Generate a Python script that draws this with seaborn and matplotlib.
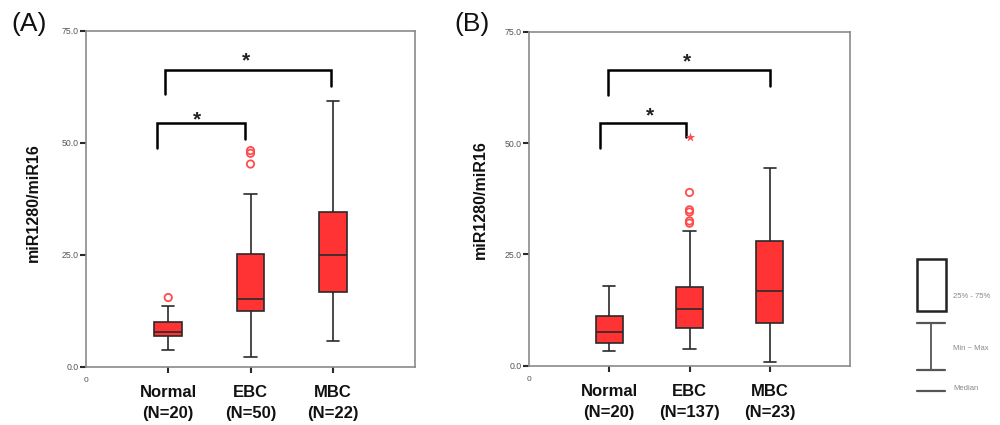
import numpy as np
import pandas as pd
import matplotlib
matplotlib.use("Agg")
import matplotlib.pyplot as plt
import seaborn as sns

# ---------------- data ----------------
groups = ["Normal", "EBC", "MBC"]
labels_a = ["Normal\n(N=20)", "EBC\n(N=50)", "MBC\n(N=22)"]
labels_b = ["Normal\n(N=20)", "EBC\n(N=137)", "MBC\n(N=23)"]
y_ticks = [0, 25, 50, 75]
y_ticklabels = ["0.0", "25.0", "50.0", "75.0"]

# five-number summaries (min, Q1, median, Q3, max) per group
a_min = [3.8, 2.2, 5.9]
a_q1 = [6.9, 12.6, 16.7]
a_med = [7.9, 15.2, 25.0]
a_q3 = [10.0, 25.2, 34.7]
a_max = [13.6, 38.6, 59.4]
a_out_group = ["Normal", "EBC", "EBC", "EBC"]
a_out_val = [15.5, 48.3, 47.7, 45.3]
a_ext_group = []
a_ext_val = []

b_min = [3.3, 3.8, 0.9]
b_q1 = [5.0, 8.4, 9.5]
b_med = [7.5, 12.7, 16.8]
b_q3 = [11.2, 17.6, 28.0]
b_max = [17.9, 30.3, 44.3]
b_out_group = ["EBC", "EBC", "EBC", "EBC", "EBC"]
b_out_val = [38.9, 35.0, 34.5, 32.5, 32.0]
b_ext_group = ["EBC"]
b_ext_val = [51.4]

# significance brackets: (x left, x right, left leg bottom, right leg bottom, top)
a_brackets = [(-0.14, 0.93, 48.9, 51.0, 54.5), (-0.045, 1.98, 60.9, 62.8, 66.4)]
a_stars = [(0.35, 55.2), (0.95, 68.3)]
b_brackets = [(-0.11, 0.96, 48.8, 51.3, 54.4), (-0.01, 2.0, 60.8, 62.8, 66.4)]
b_stars = [(0.51, 56.2), (0.97, 68.2)]

RED = "#ff3333"
DARK = "#2a2a2a"

sns.set_theme(style="white")
plt.rcParams["font.family"] = ["Liberation Sans", "DejaVu Sans"]

fig = plt.figure(figsize=(10, 4.25), dpi=100)


def panel(rect, mins, q1s, meds, q3s, maxs, out_g, out_v, ext_g, ext_v,
          brackets, stars, xlabels):
    ax = fig.add_axes(rect)
    rows = []
    for g, a, b, c, d, e in zip(groups, mins, q1s, meds, q3s, maxs):
        for v in (a, b, c, d, e):
            rows.append({"group": g, "value": v})
    df = pd.DataFrame(rows)
    sns.boxplot(data=df, x="group", y="value", order=groups, whis=(0, 100),
                width=0.34, color=RED, saturation=1, linecolor=DARK,
                linewidth=1.2, showfliers=False, ax=ax, capwidths=0.15)
    ox = [groups.index(g) for g in out_g]
    ax.scatter(ox, out_v, s=28, facecolors="none", edgecolors="#ff4d4d",
               linewidths=1.3, zorder=5)
    if ext_g:
        ex = [groups.index(g) for g in ext_g]
        ax.scatter(ex, ext_v, s=50, marker="*", color="#ff4d4d",
                   linewidths=0, zorder=5)
    for (xl, xr, yl, yr, top) in brackets:
        ax.plot([xl, xl, xr, xr], [yl, top, top, yr], color="black",
                lw=1.8, solid_joinstyle="miter")
    for (sx, sy) in stars:
        ax.text(sx, sy, "*", ha="center", va="center", fontsize=15,
                color="#222222", fontweight="bold")
    ax.set_xlim(-1, 3)
    ax.set_ylim(0, 75)
    ax.set_yticks(y_ticks)
    ax.set_yticklabels(y_ticklabels)
    ax.set_xticks(range(len(groups)))
    ax.set_xticklabels(xlabels, fontsize=12, fontweight="bold",
                       linespacing=1.5, color="#111111")
    ax.tick_params(axis="y", direction="out", length=4, width=1.5,
                   color=DARK, labelsize=6.3, labelcolor="#555555", pad=1.5,
                   left=True)
    ax.tick_params(axis="x", direction="out", length=4, width=1.5,
                   color=DARK, pad=9, bottom=True)
    ax.set_xlabel("")
    ax.set_ylabel("")
    for s in ax.spines.values():
        s.set_color("#8a8a8a")
        s.set_linewidth(1.2)
        s.set_visible(True)
    ax.text(0, -0.04, "0", transform=ax.transAxes, ha="center", va="center",
            fontsize=6, color="#555555")
    return ax


axA = panel([0.086, 0.1365, 0.329, 0.7906], a_min, a_q1, a_med, a_q3, a_max,
            a_out_group, a_out_val, a_ext_group, a_ext_val,
            a_brackets, a_stars, labels_a)
axB = panel([0.529, 0.1395, 0.321, 0.786], b_min, b_q1, b_med, b_q3, b_max,
            b_out_group, b_out_val, b_ext_group, b_ext_val,
            b_brackets, b_stars, labels_b)

fig.text(0.033, 1 - 202.5 / 425, "miR1280/miR16", rotation=90, ha="center",
         va="center", fontsize=11.5, fontweight="bold", color="#111111")
fig.text(0.480, 1 - 200 / 425, "miR1280/miR16", rotation=90, ha="center",
         va="center", fontsize=11.5, fontweight="bold", color="#111111")
fig.text(0.011, 1 - 24 / 425, "(A)", ha="left", va="center", fontsize=19,
         color="#111111")
fig.text(0.454, 1 - 24 / 425, "(B)", ha="left", va="center", fontsize=19,
         color="#111111")

# explanatory legend on the right (pixel-like coordinates)
lg = fig.add_axes([0, 0, 1, 1], facecolor="none")
lg.set_xlim(0, 1000)
lg.set_ylim(425, 0)
lg.axis("off")
lg.add_patch(plt.Rectangle((917, 259), 29, 52, fill=False, ec="#222222",
                           lw=1.8))
lg.plot([931, 931], [323, 370], color="#555555", lw=1.3)
lg.plot([917, 945], [323, 323], color="#555555", lw=1.6)
lg.plot([917, 945], [370, 370], color="#555555", lw=1.6)
lg.plot([917, 945], [391, 391], color="#555555", lw=1.6)
lg.text(953, 297, "25% - 75%", fontsize=5.5, color="#888888", va="center")
lg.text(953, 349, "Min ~ Max", fontsize=5.5, color="#888888", va="center")
lg.text(953, 389, "Median", fontsize=5.5, color="#888888", va="center")

fig.savefig("out.png", dpi=100)
